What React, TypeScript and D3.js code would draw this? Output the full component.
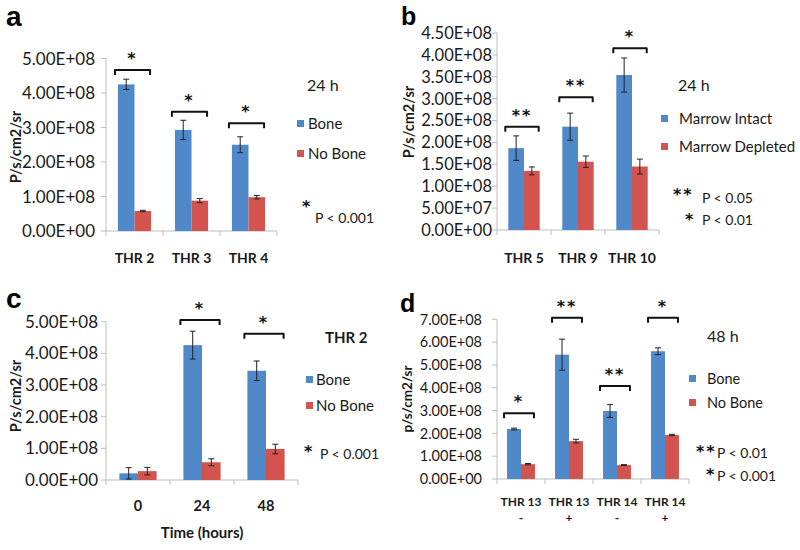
import React from "react";
import * as d3 from "d3";

const FONT = "Lato, 'Open Sans', sans-serif";
const STAR_FONT = "'DejaVu Sans', sans-serif";
const BLUE = "#4F89CA";
const RED = "#D3544E";
const AXIS = "#BDBDBD";

// ---------- Panel a ----------
const catsA = ["THR 2", "THR 3", "THR 4"];
const boneA = [4.25e8, 2.93e8, 2.5e8];
const boneErrA = [0.15e8, 0.28e8, 0.23e8];
const noBoneA = [0.58e8, 0.88e8, 0.98e8];
const noBoneErrA = [0.02e8, 0.06e8, 0.05e8];
const sigLevelA = [4.67e8, 3.46e8, 3.12e8];
const sigStarsA = ["*", "*", "*"];
const yTicksA = [0, 1e8, 2e8, 3e8, 4e8, 5e8];

// ---------- Panel b ----------
const catsB = ["THR 5", "THR 9", "THR 10"];
const intactB = [1.87e8, 2.36e8, 3.54e8];
const intactErrB = [0.28e8, 0.31e8, 0.39e8];
const depletedB = [1.35e8, 1.56e8, 1.45e8];
const depletedErrB = [0.09e8, 0.13e8, 0.17e8];
const sigLevelB = [2.36e8, 3.03e8, 4.15e8];
const sigStarsB = ["**", "**", "*"];
const yTicksB = [0, 0.5e8, 1e8, 1.5e8, 2e8, 2.5e8, 3e8, 3.5e8, 4e8, 4.5e8];

// ---------- Panel c ----------
const catsC = ["0", "24", "48"];
const boneC = [0.21e8, 4.26e8, 3.45e8];
const boneErrC = [0.18e8, 0.44e8, 0.31e8];
const noBoneC = [0.28e8, 0.56e8, 0.98e8];
const noBoneErrC = [0.12e8, 0.11e8, 0.15e8];
const sigLevelC = [0, 5.05e8, 4.62e8];
const sigStarsC = ["", "*", "*"];
const yTicksC = [0, 1e8, 2e8, 3e8, 4e8, 5e8];

// ---------- Panel d ----------
const catsD = ["THR 13|-", "THR 13|+", "THR 14|-", "THR 14|+"];
const boneD = [2.19e8, 5.45e8, 2.98e8, 5.6e8];
const boneErrD = [0.04e8, 0.68e8, 0.28e8, 0.15e8];
const noBoneD = [0.65e8, 1.66e8, 0.61e8, 1.93e8];
const noBoneErrD = [0.03e8, 0.08e8, 0.02e8, 0.03e8];
const sigLevelD = [2.88e8, 7.07e8, 4.08e8, 7.07e8];
const sigStarsD = ["*", "**", "**", "*"];
const yTicksD = [0, 1e8, 2e8, 3e8, 4e8, 5e8, 6e8, 7e8];

function fmtExp(v: number): string {
  if (v === 0) return "0.00E+00";
  const e = Math.floor(Math.log10(v) + 1e-9);
  const m = v / Math.pow(10, e);
  return `${m.toFixed(2)}E+${String(e).padStart(2, "0")}`;
}

type Series = { name: string; color: string; values: number[]; errs: number[] };
type Note = { star: string; sx: number; sy: number; text: string; tx: number; ty: number };

type PanelCfg = {
  label: string; labelX: number; labelY: number; labelSize: number;
  xStart: number; xEnd: number; yBottom: number; yTop: number; yMax: number; ticks: number[];
  tickRight: number; tickSize: number;
  cats: string[]; catY: number; catSize: number;
  series: Series[];
  sigLevels: number[]; sigStars: string[];
  yTitle: string; yTitleX: number; yTitleY: number; yTitleSize: number;
  legendTitle: string; legendTitleBold: boolean; legendTitleX: number; legendTitleY: number;
  legendSqX: number; legendYs: number[]; legendTextX: number; legendSize: number;
  notes: Note[]; noteSize: number;
  xTitle?: string; xTitleY?: number;
};

function Panel({ c }: { c: PanelCfg }) {
  const y = d3.scaleLinear().domain([0, c.yMax]).range([c.yBottom, c.yTop]);
  const x0 = d3.scaleBand<string>().domain(c.cats).range([c.xStart, c.xEnd]).padding(0);
  const x1 = d3
    .scaleBand<string>()
    .domain(c.series.map((s) => s.name))
    .range([0, x0.bandwidth()])
    .paddingInner(0)
    .paddingOuter(0.72);
  const bw = x1.bandwidth();
  const boundaries = [...c.cats.map((k) => x0(k) as number), c.xEnd];
  return (
    <g fontFamily={FONT}>
      <text x={c.labelX} y={c.labelY} fontSize={c.labelSize} fontWeight={700} fontFamily="'Liberation Sans', Arial, sans-serif">
        {c.label}
      </text>
      {/* y axis */}
      <line x1={c.xStart} x2={c.xStart} y1={y(c.yMax)} y2={c.yBottom} stroke={AXIS} strokeWidth={1} />
      {c.ticks.map((t) => (
        <g key={t}>
          <line x1={c.xStart - 5} x2={c.xStart} y1={y(t)} y2={y(t)} stroke={AXIS} />
          <text x={c.tickRight} y={y(t)} dy="0.36em" textAnchor="end" fontSize={c.tickSize} fill="#1a1a1a">
            {fmtExp(t)}
          </text>
        </g>
      ))}
      {/* x axis */}
      <line x1={c.xStart} x2={c.xEnd} y1={c.yBottom} y2={c.yBottom} stroke={AXIS} />
      {boundaries.map((b, i) => (
        <line key={i} x1={b} x2={b} y1={c.yBottom} y2={c.yBottom + 5} stroke={AXIS} />
      ))}
      {c.cats.map((k) => {
        const cx = (x0(k) as number) + x0.bandwidth() / 2;
        const parts = k.split("|");
        return (
          <text key={k} x={cx} y={c.catY} textAnchor="middle" fontSize={c.catSize} fontWeight={700} fill="#1a1a1a">
            {parts.map((p, i) => (
              <tspan key={i} x={cx} dy={i === 0 ? 0 : c.catSize * 1.3}>
                {p}
              </tspan>
            ))}
          </text>
        );
      })}
      {/* bars */}
      {c.series.map((s) =>
        c.cats.map((k, i) => {
          const bx = (x0(k) as number) + (x1(s.name) as number);
          const v = s.values[i];
          const e = s.errs[i];
          const mx = bx + bw / 2;
          return (
            <g key={s.name + k}>
              <rect x={bx} y={y(v)} width={bw} height={c.yBottom - y(v)} fill={s.color} />
              <line x1={mx} x2={mx} y1={y(v + e)} y2={y(Math.max(0, v - e))} stroke="#222" strokeWidth={1} />
              <line x1={mx - 3} x2={mx + 3} y1={y(v + e)} y2={y(v + e)} stroke="#222" strokeWidth={1} />
              <line x1={mx - 3} x2={mx + 3} y1={y(Math.max(0, v - e))} y2={y(Math.max(0, v - e))} stroke="#222" strokeWidth={1} />
            </g>
          );
        })
      )}
      {/* significance brackets */}
      {c.cats.map((k, i) => {
        if (!c.sigStars[i]) return null;
        const cx = (x0(k) as number) + x0.bandwidth() / 2 - 2;
        const half = bw + 1;
        const ly = y(c.sigLevels[i]);
        return (
          <g key={"sig" + k}>
            <path
              d={`M${cx - half},${ly + 5} L${cx - half},${ly} L${cx + half},${ly} L${cx + half},${ly + 5}`}
              fill="none"
              stroke="#111"
              strokeWidth={2}
              strokeLinejoin="round"
            />
            <text x={cx} y={ly - 6} textAnchor="middle" fontSize={16} fontWeight={700} fontFamily={STAR_FONT} fill="#111" letterSpacing={2}>
              {c.sigStars[i]}
            </text>
          </g>
        );
      })}
      {/* y title */}
      <text
        transform={`translate(${c.yTitleX},${c.yTitleY}) rotate(-90)`}
        textAnchor="middle"
        dominantBaseline="central"
        fontSize={c.yTitleSize}
        fontWeight={700}
        fill="#1a1a1a"
      >
        {c.yTitle}
      </text>
      {c.xTitle ? (
        <text x={(c.xStart + c.xEnd) / 2} y={c.xTitleY} textAnchor="middle" fontSize={15} fontWeight={700} fill="#1a1a1a">
          {c.xTitle}
        </text>
      ) : null}
      {/* legend */}
      <text x={c.legendTitleX} y={c.legendTitleY} fontSize={c.legendTitleBold ? 15 : 16} fontWeight={c.legendTitleBold ? 700 : 400} fill="#1a1a1a">
        {c.legendTitle}
      </text>
      {c.series.map((s, i) => (
        <g key={"lg" + s.name}>
          <rect x={c.legendSqX} y={c.legendYs[i] - 9} width={7} height={7} fill={s.color} />
          <text x={c.legendTextX} y={c.legendYs[i]} fontSize={c.legendSize} fill="#1a1a1a">
            {s.name}
          </text>
        </g>
      ))}
      {c.notes.map((n, i) => (
        <g key={"n" + i}>
          <text x={n.sx} y={n.sy} fontSize={16} fontWeight={700} fontFamily={STAR_FONT} fill="#111" letterSpacing={2}>
            {n.star}
          </text>
          <text x={n.tx} y={n.ty} fontSize={c.noteSize} fill="#1a1a1a">
            {n.text}
          </text>
        </g>
      ))}
    </g>
  );
}

const panelA: PanelCfg = {
  label: "a", labelX: 6, labelY: 26, labelSize: 28,
  xStart: 106, xEnd: 277, yBottom: 231, yTop: 58.5, yMax: 5e8, ticks: yTicksA,
  tickRight: 95, tickSize: 17,
  cats: catsA, catY: 263, catSize: 14,
  series: [
    { name: "Bone", color: BLUE, values: boneA, errs: boneErrA },
    { name: "No Bone", color: RED, values: noBoneA, errs: noBoneErrA },
  ],
  sigLevels: sigLevelA, sigStars: sigStarsA,
  yTitle: "P/s/cm2/sr", yTitleX: 15, yTitleY: 147, yTitleSize: 14.5,
  legendTitle: "24 h", legendTitleBold: false, legendTitleX: 307, legendTitleY: 91,
  legendSqX: 297, legendYs: [129, 159], legendTextX: 308, legendSize: 15,
  notes: [{ star: "*", sx: 302, sy: 212, text: "P < 0.001", tx: 315, ty: 223 }], noteSize: 14,
};

const panelB: PanelCfg = {
  label: "b", labelX: 401, labelY: 25, labelSize: 25,
  xStart: 497, xEnd: 659, yBottom: 230, yTop: 33, yMax: 4.5e8, ticks: yTicksB,
  tickRight: 492, tickSize: 16.5,
  cats: catsB, catY: 263, catSize: 14,
  series: [
    { name: "Marrow Intact", color: BLUE, values: intactB, errs: intactErrB },
    { name: "Marrow Depleted", color: RED, values: depletedB, errs: depletedErrB },
  ],
  sigLevels: sigLevelB, sigStars: sigStarsB,
  yTitle: "P/s/cm2/sr", yTitleX: 408, yTitleY: 122, yTitleSize: 14.5,
  legendTitle: "24 h", legendTitleBold: false, legendTitleX: 678, legendTitleY: 91,
  legendSqX: 661, legendYs: [124, 152], legendTextX: 679, legendSize: 15,
  notes: [
    { star: "**", sx: 673, sy: 200, text: "P < 0.05", tx: 702, ty: 203 },
    { star: "*", sx: 685, sy: 225, text: "P < 0.01", tx: 702, ty: 225 },
  ],
  noteSize: 14,
};

const panelC: PanelCfg = {
  label: "c", labelX: 6, labelY: 308, labelSize: 28,
  xStart: 106, xEnd: 298, yBottom: 480, yTop: 321.7, yMax: 5e8, ticks: yTicksC,
  tickRight: 98, tickSize: 17,
  cats: catsC, catY: 511, catSize: 14.5,
  series: [
    { name: "Bone", color: BLUE, values: boneC, errs: boneErrC },
    { name: "No Bone", color: RED, values: noBoneC, errs: noBoneErrC },
  ],
  sigLevels: sigLevelC, sigStars: sigStarsC,
  yTitle: "P/s/cm2/sr", yTitleX: 15, yTitleY: 396, yTitleSize: 14.5,
  legendTitle: "THR 2", legendTitleBold: true, legendTitleX: 325, legendTitleY: 343,
  legendSqX: 306, legendYs: [385, 411], legendTextX: 316, legendSize: 15,
  notes: [{ star: "*", sx: 304, sy: 457, text: "P < 0.001", tx: 320, ty: 459 }], noteSize: 14,
  xTitle: "Time (hours)", xTitleY: 538,
};

const panelD: PanelCfg = {
  label: "d", labelX: 400, labelY: 312, labelSize: 25,
  xStart: 497, xEnd: 689, yBottom: 479, yTop: 319.3, yMax: 7e8, ticks: yTicksD,
  tickRight: 482, tickSize: 14.5,
  cats: catsD, catY: 506, catSize: 12,
  series: [
    { name: "Bone", color: BLUE, values: boneD, errs: boneErrD },
    { name: "No Bone", color: RED, values: noBoneD, errs: noBoneErrD },
  ],
  sigLevels: sigLevelD, sigStars: sigStarsD,
  yTitle: "p/s/cm2/sr", yTitleX: 407, yTitleY: 399, yTitleSize: 13.5,
  legendTitle: "48 h", legendTitleBold: false, legendTitleX: 707, legendTitleY: 342,
  legendSqX: 689, legendYs: [384, 408], legendTextX: 707, legendSize: 14.5,
  notes: [
    { star: "**", sx: 696, sy: 457, text: "P < 0.01", tx: 717, ty: 458 },
    { star: "*", sx: 706, sy: 480, text: "P < 0.001", tx: 717, ty: 481 },
  ],
  noteSize: 14,
};

export default function App() {
  return (
    <svg
      width={800}
      height={550}
      viewBox="0 0 800 550"
      style={{ position: "absolute", left: 0, top: 0, background: "#fff" }}
    >
      <rect x={0} y={0} width={800} height={550} fill="#fff" />
      <Panel c={panelA} />
      <Panel c={panelB} />
      <Panel c={panelC} />
      <Panel c={panelD} />
    </svg>
  );
}
